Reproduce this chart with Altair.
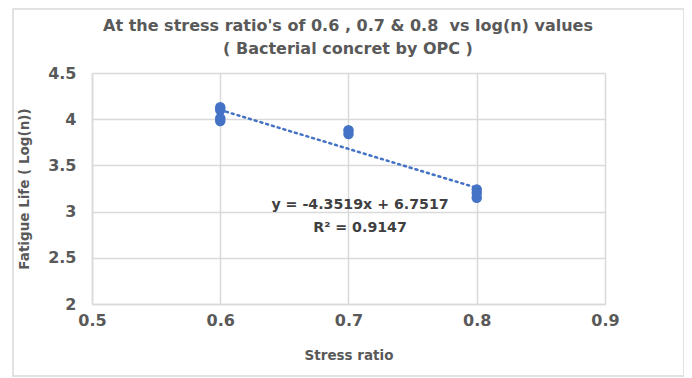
import altair as alt
import pandas as pd

stress = [0.6, 0.6, 0.6, 0.6, 0.7, 0.7, 0.8, 0.8, 0.8]
logn = [4.13, 4.10, 4.01, 3.98, 3.88, 3.84, 3.24, 3.20, 3.15]
eq_lines = ["y = -4.3519x + 6.7517", "R² = 0.9147"]
eq_x = [0.709, 0.709]
eq_y = [3.07, 2.82]
title_lines = ["At the stress ratio's of 0.6 , 0.7 & 0.8\u00a0 vs log(n) values", "( Bacterial concret by OPC )"]

df = pd.DataFrame({"x": stress, "y": logn})
eq = pd.DataFrame({"x": eq_x, "y": eq_y, "t": eq_lines})

FONT = "DejaVu Sans"
GRAY = "#595959"

xs = alt.Scale(domain=[0.5, 0.9], nice=False, zero=False)
ys = alt.Scale(domain=[2, 4.5], nice=False, zero=False)

frame = alt.Chart(pd.DataFrame({"a": [0]})).mark_rect(
    fill="transparent", stroke="#d9d9d9", strokeWidth=1.5
).encode(
    x=alt.value(-79), x2=alt.value(592), y=alt.value(-64), y2=alt.value(303)
)

title1 = alt.Chart(pd.DataFrame({"t": [title_lines[0]]})).mark_text(
    font=FONT, fontSize=16, fontWeight="bold", color=GRAY
).encode(x=alt.value(256), y=alt.value(-47), text="t:N")
title2 = alt.Chart(pd.DataFrame({"t": [title_lines[1]]})).mark_text(
    font=FONT, fontSize=16, fontWeight="bold", color=GRAY
).encode(x=alt.value(256), y=alt.value(-24), text="t:N")

points = alt.Chart(df).mark_circle(size=110, color="#4472C4", opacity=1).encode(
    x=alt.X("x:Q", scale=xs, title="Stress ratio",
            axis=alt.Axis(values=[0.5, 0.6, 0.7, 0.8, 0.9], format=".1f", labelFlush=False)),
    y=alt.Y("y:Q", scale=ys, title="Fatigue Life ( Log(n))",
            axis=alt.Axis(values=[2, 2.5, 3, 3.5, 4, 4.5], format="~g")),
)

trend = alt.Chart(df).transform_regression("x", "y", extent=[0.6, 0.8]).mark_line(
    color="#4472C4", strokeWidth=2.5, strokeDash=[2, 4], strokeCap="round"
).encode(x=alt.X("x:Q", scale=xs), y=alt.Y("y:Q", scale=ys))

label = alt.Chart(eq).mark_text(
    font=FONT, fontSize=14.2, fontWeight="bold", color="#404040"
).encode(x=alt.X("x:Q", scale=xs), y=alt.Y("y:Q", scale=ys), text="t:N")

chart = alt.layer(frame, title1, title2, trend, points, label).properties(
    width=513,
    height=231,
    autosize=alt.AutoSizeParams(type="none"),
    padding={"left": 84, "top": 65, "right": 79, "bottom": 74},
).configure_view(stroke=None).configure_axis(
    grid=True, gridColor="#d9d9d9", gridWidth=1.5,
    domainColor="#d9d9d9", domainWidth=1.5, ticks=False,
    labelFont=FONT, labelFontSize=16, labelColor=GRAY, labelFontWeight="bold",
    titleFont=FONT, titleFontSize=13.5, titleColor=GRAY, titleFontWeight="bold",
).configure_axisX(labelPadding=8, titlePadding=20).configure_axisY(labelPadding=16, titlePadding=16)

chart.save("out.html", embed_options={"renderer": "svg", "actions": False})
